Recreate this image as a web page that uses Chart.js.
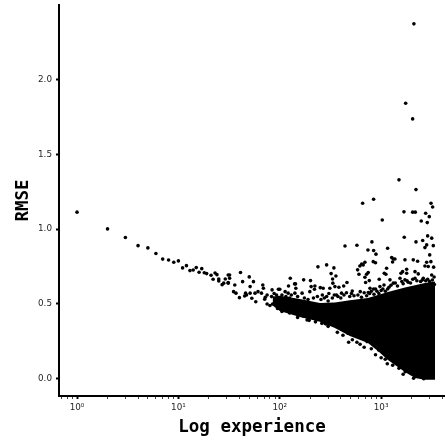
<!DOCTYPE html>
<html>
<head>
<meta charset="utf-8">
<script src="https://cdn.jsdelivr.net/npm/chart.js@4/dist/chart.umd.min.js"></script>
<style>
body { margin: 0; background: #fff; }
canvas { display: block; }
</style>
</head>
<body>
<canvas id="grafico" width="445" height="441"></canvas>
<script>
// valores, um ponto por par (experiencia, rmse)
var experiencia = [
    1, 2, 3, 4, 5, 6, 7, 8, 9, 10, 11, 12, 13, 14, 15, 16, 17, 18, 19, 21, 22, 23, 24, 25, 25, 27, 29, 31, 32,
    31, 32, 28, 31, 36, 35, 37, 40, 41, 43, 45, 46, 47, 50, 51, 51, 53, 55, 57, 58, 61, 66, 68, 69, 71, 72, 80, 83, 84, 93, 97,
    100, 104, 110, 113, 117, 121, 122, 127, 136, 137, 140, 141, 143, 144, 157, 158, 166, 172, 186, 198, 201, 204, 207, 220, 222, 238, 249, 251, 268, 279, 285, 290, 312, 321, 332, 334, 337, 342,
    350, 358, 363, 383, 407, 427, 440, 460, 470, 478, 519, 555, 577, 577, 586, 604, 617, 622, 643, 657, 665, 692, 692, 703, 719, 725, 741, 746, 746, 764, 776, 811,
    836, 843, 843, 843, 881, 881, 889, 945, 957, 973, 1026, 1067, 1074, 1097, 1114, 1132, 1159, 1194, 1222, 1271, 1297, 1318, 1318, 1368, 1377, 1500,
    1535, 1570, 1629, 1679, 1690, 1718, 1718, 1730, 1746, 1786, 1786, 1849, 2046, 2046, 2075, 2090, 2105, 2158, 2158, 2172, 2207, 2207, 2291, 2323, 2488, 2570, 2606, 2630, 2705, 2705, 2750, 2813, 2813, 2851, 2877, 2877, 2917, 2985, 3013, 3097, 3105, 3155, 3155, 3222, 3270, 3296,
    // beirada de cima da massa
    263, 290, 305, 330, 345, 375, 400, 430, 455, 490, 510, 540, 590, 640, 680, 720, 770, 800, 850, 910, 950, 1000, 1040, 1100, 1160, 1250, 1380, 1450, 1600, 1650, 1800, 1950, 2050, 2250, 2450, 2550, 2750, 3000, 3200, 3330, 3350,
    75, 88, 95, 105, 115, 125, 130, 150, 175, 190, 215, 235, 255, 275, 300,
    // beirada de baixo da massa
    75, 85, 95, 105, 125, 150, 170, 195, 225, 260, 300, 370, 420, 520, 620, 680, 800, 880, 1000, 1150, 1300, 1500, 1650
];
var rmse = [
    1.114, 1.002, 0.944, 0.89, 0.875, 0.837, 0.8, 0.794, 0.779, 0.788, 0.741, 0.756, 0.723, 0.727, 0.743, 0.712, 0.736, 0.709, 0.703, 0.692, 0.665, 0.707, 0.696, 0.667, 0.654, 0.629, 0.667, 0.639, 0.694,
    0.694, 0.672, 0.639, 0.643, 0.627, 0.582, 0.572, 0.542, 0.71, 0.649, 0.553, 0.572, 0.56, 0.681, 0.616, 0.572, 0.538, 0.649, 0.572, 0.515, 0.582, 0.572, 0.627, 0.605, 0.531, 0.545, 0.489, 0.549, 0.594, 0.56, 0.598,
    0.598, 0.527, 0.482, 0.582, 0.46, 0.572, 0.62, 0.672, 0.449, 0.442, 0.634, 0.572, 0.634, 0.605, 0.433, 0.449, 0.572, 0.661, 0.393, 0.582, 0.656, 0.616, 0.426, 0.598, 0.62, 0.748, 0.404, 0.609, 0.605, 0.371, 0.366, 0.761, 0.605, 0.703, 0.667, 0.639, 0.359, 0.741,
    0.616, 0.687, 0.56, 0.612, 0.572, 0.62, 0.888, 0.643, 0.304, 0.244, 0.587, 0.304, 0.893, 0.244, 0.728, 0.699, 0.754, 0.582, 0.766, 1.174, 0.761, 0.779, 0.679, 0.643, 0.699, 0.248, 0.861, 0.71, 0.576, 0.656, 0.605, 0.915,
    0.783, 1.2, 0.857, 0.6, 0.776, 0.6, 0.833, 0.192, 0.665, 0.616, 1.062, 0.627, 0.705, 0.13, 0.699, 0.739, 0.873, 0.612, 0.661, 0.81, 0.781, 0.801, 0.639, 0.801, 0.114, 1.33,
    0.672, 0.705, 0.716, 1.116, 0.946, 0.795, 0.661, 0.047, 1.843, 0.732, 0.705, 0.645, 1.738, 1.114, 0.795, 0.003, 2.374, 0.716, 0.672, 1.114, 1.265, 0.915, 0.786, 0.701, 1.055, 0.924, 0.672, 0.0, 0.877, 0.754, 1.107, 0.895, 0.779, 1.044, 0.955, 0.665, 0.75, 1.084, 0.828, 0.783, 1.174, 0.94, 0.694, 1.149, 0.89, 0.746,
    // beirada de cima da massa
    0.56, 0.55, 0.57, 0.54, 0.56, 0.55, 0.54, 0.56, 0.575, 0.55, 0.57, 0.555, 0.56, 0.545, 0.575, 0.555, 0.57, 0.585, 0.565, 0.585, 0.57, 0.59, 0.6, 0.585, 0.6, 0.625, 0.64, 0.62, 0.65, 0.635, 0.655, 0.64, 0.665, 0.655, 0.65, 0.66, 0.655, 0.65, 0.66, 0.68, 0.63,
    0.56, 0.57, 0.54, 0.56, 0.55, 0.54, 0.56, 0.55, 0.54, 0.53, 0.54, 0.55, 0.53, 0.54, 0.52,
    // beirada de baixo da massa
    0.5, 0.5, 0.47, 0.45, 0.44, 0.41, 0.42, 0.39, 0.38, 0.37, 0.35, 0.31, 0.29, 0.26, 0.23, 0.21, 0.2, 0.16, 0.14, 0.1, 0.09, 0.07, 0.03
];

// a massa preta e solida demais para ler pontos um a um: so o contorno
var massaExperiencia = [85, 100, 158, 249, 350, 492, 741, 930, 1167, 1718, 2157, 2705, 3400];
var massaTopo = [0.55, 0.554, 0.533, 0.507, 0.51, 0.525, 0.54, 0.56, 0.58, 0.61, 0.625, 0.64, 0.65];
var massaBase = [0.49, 0.453, 0.413, 0.38, 0.339, 0.286, 0.239, 0.185, 0.125, 0.045, 0.005, -0.008, -0.008];

var ticksX = [0.7, 0.8, 0.9, 1, 2, 3, 4, 5, 6, 7, 8, 9, 10, 20, 30, 40, 50, 60, 70, 80, 90, 100, 200, 300, 400, 500, 600, 700, 800, 900, 1000, 2000, 3000, 4000];
var ticksY = [0, 0.5, 1, 1.5, 2];
var rotulosX = { 1: "10⁰", 10: "10¹", 100: "10²", 1000: "10³" };

function pares(xs, ys) {
    return xs.map(function (x, i) { return { x: x, y: ys[i] }; });
}

function semFolga(scale) {
    scale.paddingLeft = 0;
    scale.paddingRight = 0;
    scale.paddingTop = 0;
    scale.paddingBottom = 0;
}

var ctx = document.getElementById('grafico').getContext('2d');
var grafico = new Chart(ctx, {
    type: 'scatter',
    data: {
        datasets: [{
            type: 'line',
            data: pares(massaExperiencia, massaTopo),
            pointRadius: 0,
            borderWidth: 0,
            tension: 0,
            backgroundColor: '#000',
            fill: '+1'
        }, {
            type: 'line',
            data: pares(massaExperiencia, massaBase),
            pointRadius: 0,
            borderWidth: 0,
            tension: 0,
            fill: false
        }, {
            data: pares(experiencia, rmse),
            pointRadius: 1.8,
            pointBorderWidth: 0,
            pointBackgroundColor: '#000'
        }]
    },
    options: {
        responsive: false,
        animation: false,
        layout: { autoPadding: false, padding: { top: 5, left: 0, right: 0, bottom: 0 } },
        plugins: { legend: { display: false }, tooltip: { enabled: false } },
        scales: {
            x: {
                type: 'logarithmic',
                min: 0.664,
                max: 4266,
                afterBuildTicks: function (scale) {
                    scale.ticks = ticksX.map(function (v) { return { value: v }; });
                },
                afterFit: function (scale) { scale.height = 45; semFolga(scale); },
                border: { color: '#000', width: 2 },
                grid: {
                    drawOnChartArea: false,
                    tickLength: 3,
                    tickColor: function (c) { return rotulosX[c.tick.value] ? '#000' : '#444'; },
                    tickWidth: function (c) { return rotulosX[c.tick.value] ? 2 : 1; }
                },
                ticks: {
                    autoSkip: false,
                    maxRotation: 0,
                    padding: 3,
                    color: '#262626',
                    font: { family: 'DejaVu Sans', size: 8.8 },
                    callback: function (v) { return rotulosX[v] || ''; }
                },
                title: {
                    display: true,
                    text: 'Log experience',
                    color: '#000',
                    padding: { top: 0, bottom: 3 },
                    font: { family: 'DejaVu Sans Mono', size: 17.5, weight: 'bold' }
                }
            },
            y: {
                min: -0.116,
                max: 2.5,
                afterBuildTicks: function (scale) {
                    scale.ticks = ticksY.map(function (v) { return { value: v }; });
                },
                afterFit: function (scale) { scale.width = 59; semFolga(scale); },
                border: { color: '#000', width: 2 },
                grid: {
                    drawOnChartArea: false,
                    tickLength: 3,
                    tickColor: '#000',
                    tickWidth: 2
                },
                ticks: {
                    padding: 4,
                    color: '#262626',
                    font: { family: 'DejaVu Sans', size: 8.8 },
                    callback: function (v) { return v.toFixed(1); }
                },
                title: {
                    display: true,
                    text: 'RMSE',
                    color: '#000',
                    padding: { top: 13, bottom: 0 },
                    font: { family: 'DejaVu Sans Mono', size: 17.5, weight: 'bold' }
                }
            }
        }
    }
});
</script>
</body>
</html>
